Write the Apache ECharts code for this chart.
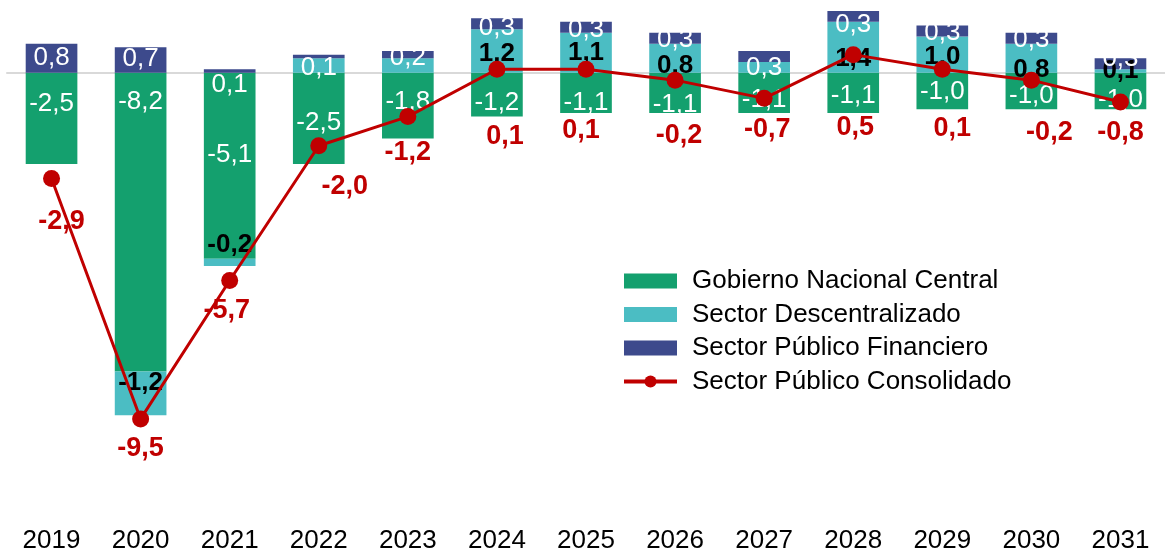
<!DOCTYPE html>
<html>
<head>
<meta charset="utf-8">
<script src="https://cdn.jsdelivr.net/npm/echarts@6/dist/echarts.min.js"></script>
<style>
  html, body { margin: 0; padding: 0; background: #ffffff; }
  #chart { width: 1165px; height: 554px; }
</style>
</head>
<body>
<div id="chart"></div>
<script>
// Balance fiscal por sector (% del PIB), 2019-2031
const years = ['2019', '2020', '2021', '2022', '2023', '2024', '2025', '2026', '2027', '2028', '2029', '2030', '2031'];
const gobiernoNacionalCentral = [-2.5, -8.2, -5.1, -2.5, -1.8, -1.2, -1.1, -1.1, -1.1, -1.1, -1.0, -1.0, -1.0];
const sectorDescentralizado   = [0.0, -1.2, -0.2, 0.4, 0.4, 1.2, 1.1, 0.8, 0.3, 1.4, 1.0, 0.8, 0.1];
const sectorPublicoFinanciero = [0.8, 0.7, 0.1, 0.1, 0.2, 0.3, 0.3, 0.3, 0.3, 0.3, 0.3, 0.3, 0.3];
const sectorPublicoConsolidado = [-2.9, -9.5, -5.7, -2.0, -1.2, 0.1, 0.1, -0.2, -0.7, 0.5, 0.1, -0.2, -0.8];

// Years whose descentralizado value carries no label
const unlabeledDescentralizado = ['2019', '2022', '2023', '2027'];

// Vertical nudges (px) for the value labels, relative to the centre of each mark
const gncShift = [-15, -120, -11, 4, -4, 8, 10, 12, 7, 3, 1, 5, 9];
const sdShift  = [0, -11, -17, 0, 0, 3, 0, 8, 0, 11, 2, 12, 0];
const spfShift = [0, -1, 14, 11, 3, 4, 3, 2, 11, 8, 2, 2, -5];
const spcShiftY = [43, 30, 30, 41, 36, 67, 61, 55, 31, 73, 59, 52, 31];
const spcShiftX = [10, 0, -3, 26, 0, 8, -5, 4, 3, 2, 10, 18, 0];

const COLORS = {
  gnc: '#14a06e',
  sd: '#4bbdc3',
  spf: '#3d4a8c',
  spc: '#c00000'
};

const FONT = '"Liberation Sans", Arial, sans-serif';
const fmt = v => v.toFixed(1).replace('.', ',');

const barLabel = (color, weight) => ({
  show: true,
  position: 'inside',
  color: color,
  fontFamily: FONT,
  fontSize: 26,
  fontWeight: weight,
  formatter: p => fmt(p.value)
});

const chart = echarts.init(document.getElementById('chart'), null, { renderer: 'canvas' });

chart.setOption({
  animation: false,
  backgroundColor: '#ffffff',
  grid: { left: 7, right: -8, top: 0, bottom: 43, containLabel: false },
  legend: {
    orient: 'vertical',
    left: 617,
    top: 263,
    itemWidth: 53,
    itemHeight: 15,
    itemGap: 7.5,
    textStyle: { fontFamily: FONT, fontSize: 26, color: '#000000', padding: [0, 0, 0, 10] },
    data: [
      { name: 'Gobierno Nacional Central', icon: 'rect' },
      { name: 'Sector Descentralizado', icon: 'rect' },
      { name: 'Sector Público Financiero', icon: 'rect' },
      { name: 'Sector Público Consolidado', lineStyle: { width: 4 } }
    ]
  },
  xAxis: [
    {
      type: 'category',
      data: years,
      position: 'bottom',
      axisLine: { show: false, onZero: false },
      axisTick: { show: false },
      axisLabel: { fontFamily: FONT, fontSize: 26, color: '#000000', margin: 18 }
    },
    {
      // zero baseline
      type: 'category',
      data: years,
      axisLine: { show: true, onZero: true, lineStyle: { color: '#d9d9d9', width: 2 } },
      axisTick: { show: false },
      axisLabel: { show: false }
    }
  ],
  yAxis: {
    type: 'value',
    min: -12,
    max: 2,
    show: false,
    splitLine: { show: false }
  },
  series: [
    {
      name: 'Gobierno Nacional Central',
      type: 'bar',
      stack: 'total',
      barWidth: '58%',
      itemStyle: { color: COLORS.gnc },
      label: barLabel('#ffffff', 'normal'),
      data: gobiernoNacionalCentral.map((v, i) => ({ value: v, label: { offset: [0, gncShift[i]] } }))
    },
    {
      name: 'Sector Descentralizado',
      type: 'bar',
      stack: 'total',
      itemStyle: { color: COLORS.sd },
      label: barLabel('#000000', 'bold'),
      data: sectorDescentralizado.map((v, i) => ({
        value: v,
        label: unlabeledDescentralizado.includes(years[i])
          ? { show: false }
          : { offset: [0, sdShift[i]] }
      }))
    },
    {
      name: 'Sector Público Financiero',
      type: 'bar',
      stack: 'total',
      itemStyle: { color: COLORS.spf },
      label: barLabel('#ffffff', 'normal'),
      data: sectorPublicoFinanciero.map((v, i) => ({ value: v, label: { offset: [0, spfShift[i]] } }))
    },
    {
      name: 'Sector Público Consolidado',
      type: 'line',
      z: 5,
      symbol: 'circle',
      symbolSize: 17,
      itemStyle: { color: COLORS.spc },
      lineStyle: { color: COLORS.spc, width: 3 },
      label: {
        show: true,
        position: 'inside',
        color: COLORS.spc,
        fontFamily: FONT,
        fontSize: 27,
        fontWeight: 'bold',
        formatter: p => fmt(p.value)
      },
      data: sectorPublicoConsolidado.map((v, i) => ({
        value: v,
        label: { offset: [spcShiftX[i], spcShiftY[i]] }
      }))
    }
  ]
});
</script>
</body>
</html>
